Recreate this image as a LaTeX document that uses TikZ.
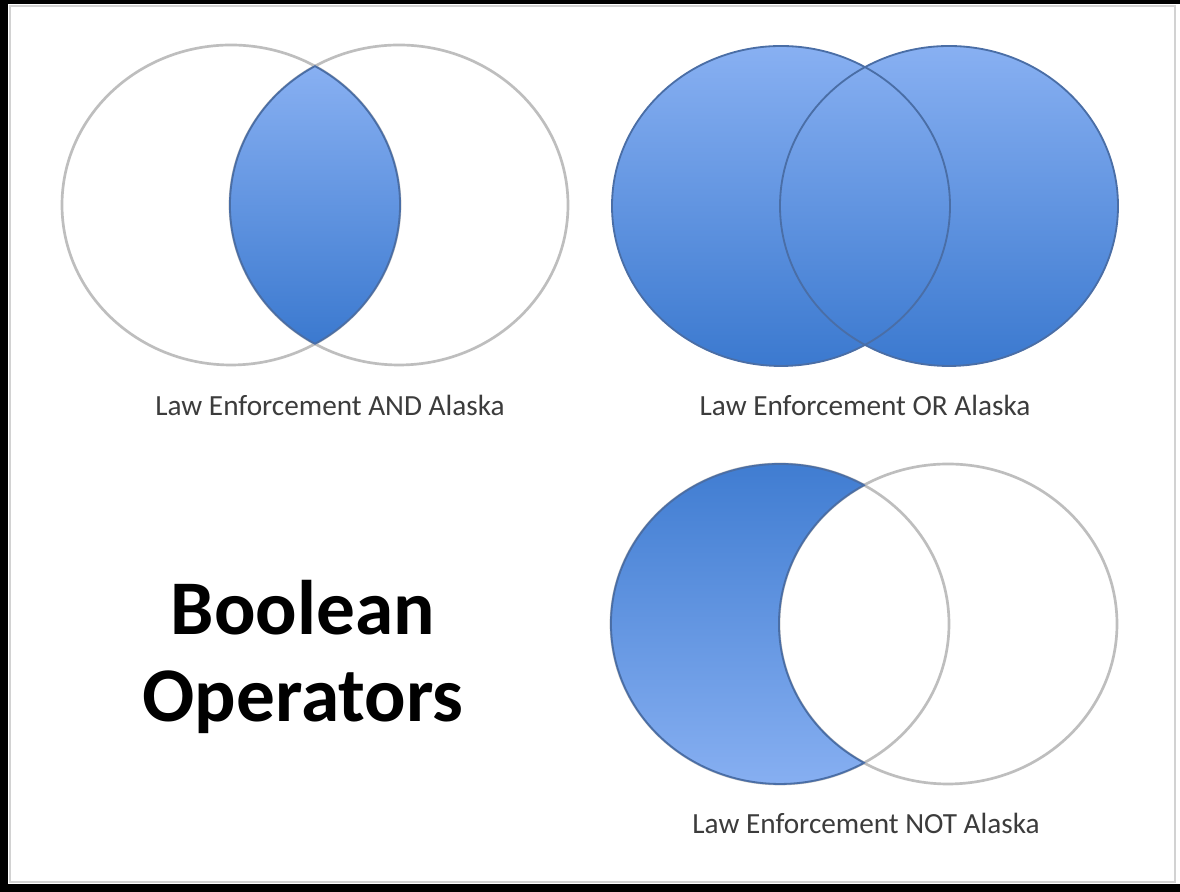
\documentclass[tikz,border=0pt]{standalone}
\usepackage{fontspec}
\setmainfont{Carlito}
\usepackage{tikz}
\usetikzlibrary{calc,positioning}
\definecolor{ringgray}{HTML}{BEBEBE}
\definecolor{edgeblue}{HTML}{4A6EA6}
\definecolor{paleblue}{HTML}{88B0F2}
\definecolor{deepblue}{HTML}{3B79CF}
\definecolor{capgray}{HTML}{3C3C3C}
\definecolor{framegray}{HTML}{D2D2D2}

\begin{document}
\begin{tikzpicture}[x=0.025cm,y=0.025cm,
				ring/.style={draw=ringgray, line width=1.9pt},
				blueset/.style={draw=edgeblue, line width=1.3pt},
				setshape/.style={x radius=169, y radius=160},
				caption/.style={font=\fontsize{20.8}{24}\selectfont, text=capgray, inner sep=0pt},
				bigtitle/.style={font=\fontsize{55}{62}\selectfont\bfseries, align=center, inner sep=0pt}
				]
				
				\useasboundingbox (0,0) rectangle (1180,892);
				% frame
				\fill[black] (0,0) rectangle (1180,892);
				\fill[white] (8,8) rectangle (1180,888);
				\draw[framegray, line width=2pt] (10,886) -- (1175,886) -- (1175,10) -- (10,10) -- cycle;
				
				\coordinate (a1) at (231,687);
				\coordinate (a2) at (399,687);
				\coordinate (o1) at (781,686);
				\coordinate (o2) at (949,686);
				\coordinate (n1) at (780,268);
				\coordinate (n2) at (948,268);
				
				% AND
				\draw[ring] (a1) ellipse [setshape];
				\draw[ring] (a2) ellipse [setshape];
				\shade[top color=paleblue, bottom color=deepblue, blueset]
				 ([shift={(-60.2:169 and 160)}]a1) arc[start angle=-60.2, end angle=60.2, setshape]
				 arc[start angle=119.8, end angle=240.2, setshape] -- cycle;
				
				% OR
				\shade[top color=paleblue, bottom color=deepblue] (o1) ellipse [setshape];
				\shade[top color=paleblue, bottom color=deepblue] (o2) ellipse [setshape];
				\draw[blueset] (o1) ellipse [setshape];
				\draw[blueset] (o2) ellipse [setshape];
				
				% NOT
				\draw[ring] (n1) ellipse [setshape];
				\draw[ring] (n2) ellipse [setshape];
				\shade[top color=deepblue, bottom color=paleblue, blueset]
				 ([shift={(60.2:169 and 160)}]n1) arc[start angle=60.2, end angle=299.8, setshape]
				 arc[start angle=240.2, end angle=119.8, setshape] -- cycle;
				
				\node[caption] (andcap) at (330,487) {Law Enforcement AND Alaska};
				\node[caption] (orcap) at (865,487) {Law Enforcement OR Alaska};
				\node[caption] (notcap) at (866,69) {Law Enforcement NOT Alaska};
				\node[bigtitle] (title) at (303,235) {Boolean\\Operators};
			\end{tikzpicture}
\end{document}
